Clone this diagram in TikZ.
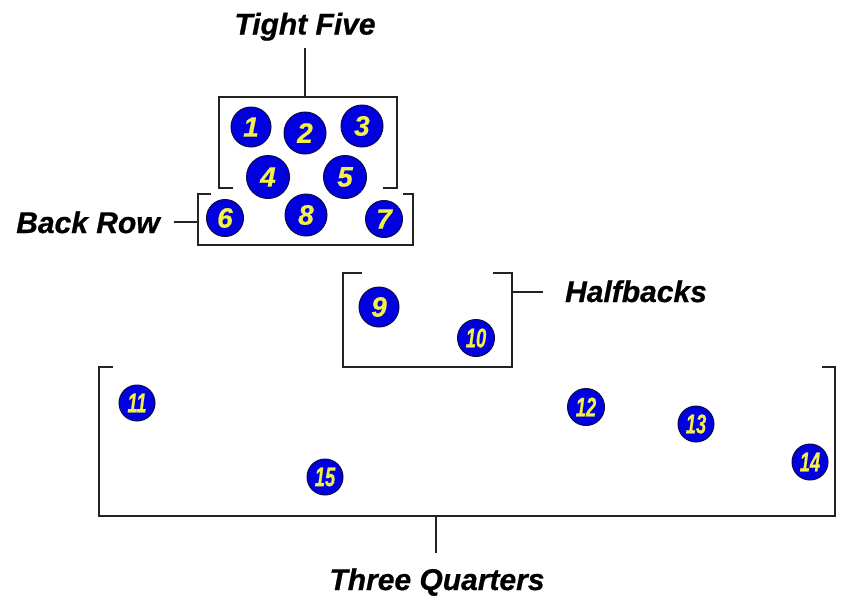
\documentclass[tikz,border=0pt]{standalone}
\usepackage{fontspec}
\setmainfont{Liberation Sans}
\newfontfamily\heavyfont[FakeBold=0.7]{Liberation Sans Bold Italic}
\definecolor{discblue}{RGB}{0,0,225}
\definecolor{discedge}{RGB}{10,10,70}
\definecolor{numyellow}{RGB}{245,240,70}
\definecolor{linegray}{RGB}{35,35,35}
\begin{document}
\begin{tikzpicture}[x=1pt,y=-1pt,
  player/.style={circle,fill=discblue,draw=discedge,line width=1pt,
    text=numyellow,inner sep=0pt,font=\heavyfont\fontsize{28}{28}\selectfont},
  bigp/.style={player,minimum size=#1*2pt},
  smallp/.style={player,minimum size=#1*2pt,font=\heavyfont\fontsize{27}{27}\selectfont},
  grouplabel/.style={inner sep=0pt,outer sep=0pt,anchor=base,
    font=\heavyfont\fontsize{30}{30}\selectfont,text=black},
  bracket/.style={draw=linegray,line width=1.5pt},
  leader/.style={draw=linegray,line width=1.5pt}]
\useasboundingbox[fill=white] (0,0) rectangle (851,595);

% brackets
\draw[bracket] (233,188) -- (219,188) -- (219,97) -- (397,97) -- (397,188) -- (383,188);
\draw[bracket] (211,194) -- (198,194) -- (198,245) -- (413,245) -- (413,194) -- (403,194);
\draw[bracket] (362,273) -- (343,273) -- (343,367) -- (512,367) -- (512,273) -- (493,273);
\draw[bracket] (113,367) -- (99,367) -- (99,516) -- (835,516) -- (835,367) -- (822,367);

% bracket attachment points
\coordinate (tfc) at (305,97);
\coordinate (brc) at (198,222);
\coordinate (hbc) at (512,292);
\coordinate (tqc) at (436,516);

% labels
\node[grouplabel] (tf) at (305,34.5) {Tight Five};
\node[grouplabel] (br) at (88,233) {Back Row};
\node[grouplabel] (hb) at (636,302) {Halfbacks};
\node[grouplabel] (tq) at (437,590) {Three Quarters};

% leaders
\draw[leader] ([yshift=-13pt]tf.base) -- (tfc);
\draw[leader] ([xshift=14pt,yshift=11pt]br.base east) -- (brc);
\draw[leader] ([xshift=-22pt,yshift=10pt]hb.base west) -- (hbc);
\draw[leader] ([xshift=-1pt,yshift=37pt]tq.base) -- (tqc);

% players
\node[bigp=20]   (p1)  at (251,127) {1};
\node[bigp=21]   (p2)  at (305,133) {2};
\node[bigp=21]   (p3)  at (362,126) {3};
\node[bigp=21.5] (p4)  at (268,177) {4};
\node[bigp=21.5] (p5)  at (345,177) {5};
\node[bigp=18.5] (p6)  at (225,218) {6};
\node[bigp=18.5] (p7)  at (384,219) {7};
\node[bigp=21]   (p8)  at (306,215) {8};
\node[bigp=20]   (p9)  at (379,307) {9};
\node[smallp=18.5] (p10) at (476,338) {\scalebox{0.68}[1]{10}};
\node[smallp=18] (p11) at (137,403) {\scalebox{0.68}[1]{11}};
\node[smallp=18.5] (p12) at (586,407) {\scalebox{0.68}[1]{12}};
\node[smallp=18] (p13) at (696,424) {\scalebox{0.68}[1]{13}};
\node[smallp=18] (p14) at (810,462) {\scalebox{0.68}[1]{14}};
\node[smallp=18] (p15) at (325,477) {\scalebox{0.68}[1]{15}};
\end{tikzpicture}
\end{document}
